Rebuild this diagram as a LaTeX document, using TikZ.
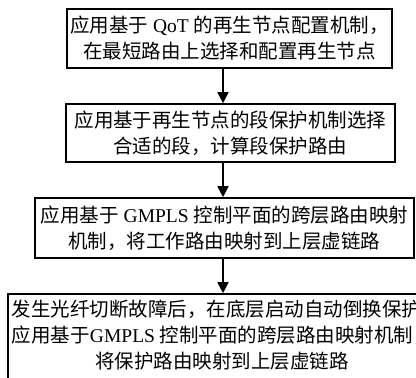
\documentclass[tikz,border=0pt]{standalone}
\usepackage{fontspec}
\setmainfont{Liberation Serif}
\newfontfamily\cjk{Noto Sans CJK SC}
\usetikzlibrary{arrows.meta}
\begin{document}
\begin{tikzpicture}[x=1pt,y=-1pt,
  stepbox/.style={draw, line width=1.6pt, align=center, inner sep=0pt,
    font=\fontsize{19.5}{26}\selectfont},
  arr/.style={line width=1.6pt, -{Triangle[width=11pt,length=11pt]}}]
\useasboundingbox (0,0) rectangle (416,378);
\clip (0,0) rectangle (416,378);
% process steps, top to bottom
\node[stepbox, minimum width=325pt, minimum height=59pt] (b1) at (229.5,38.5)
  {{\cjk 应用基于} QoT {\cjk 的再生节点配置机制，}\\
   {\cjk 在最短路由上选择和配置再生节点}};
\node[stepbox, minimum width=329pt, minimum height=58pt] (b2) at (230.5,133)
  {{\cjk 应用基于再生节点的段保护机制选择}\\
   {\cjk 合适的段，计算段保护路由}};
\node[stepbox, minimum width=379pt, minimum height=60pt] (b3) at (224.5,228)
  {{\cjk 应用基于} GMPLS {\cjk 控制平面的跨层路由映射}\\
   {\cjk 机制，将工作路由映射到上层虚链路}};
\node[stepbox, align=left, minimum width=428pt, minimum height=92pt] (b4) at (222,340)
  {\makebox[420pt][l]{\cjk 发生光纤切断故障后，在底层启动自动倒换保护}\\
   \makebox[420pt][l]{{\cjk 应用基于}GMPLS {\cjk 控制平面的跨层路由映射机制，}}\\
   \makebox[420pt][c]{\cjk 将保护路由映射到上层虚链路}\rule[-12pt]{0pt}{12pt}};
% arrows run down one common vertical line
\coordinate (ax) at (223,0);
\draw[arr] (ax |- b1.south) -- (ax |- b2.north);
\draw[arr] (ax |- b2.south) -- (ax |- b3.north);
\draw[arr] (ax |- b3.south) -- (ax |- b4.north);
\end{tikzpicture}
\end{document}
